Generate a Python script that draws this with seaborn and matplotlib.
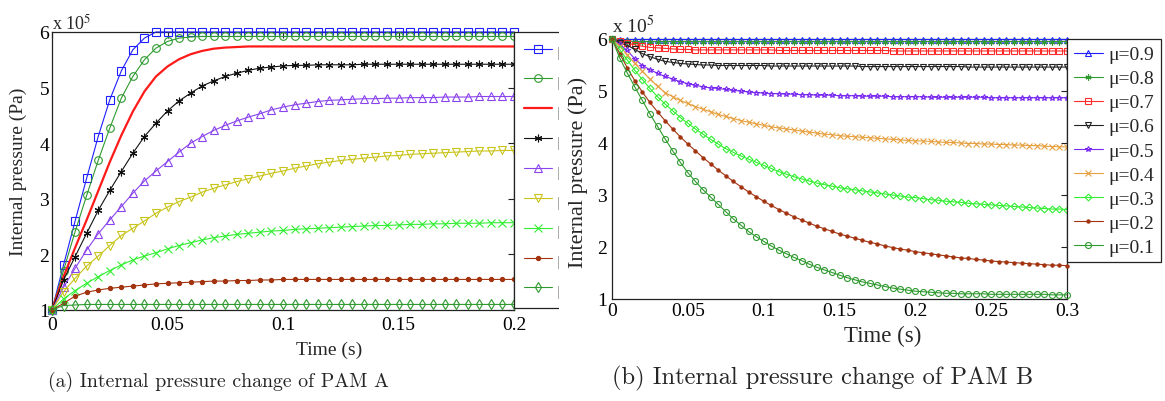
import numpy as np
import matplotlib
matplotlib.use("Agg")
import matplotlib.pyplot as plt
from matplotlib.patches import Rectangle
from matplotlib.ticker import FuncFormatter
import seaborn as sns

# ---- data (pressure in units of 1e5 Pa) ----
TIME_A = np.round(np.arange(41) * 0.005, 3)
TIME_B = np.round(np.arange(61) * 0.005, 3)

LABELS = ["μ=0.9", "μ=0.8", "μ=0.7", "μ=0.6", "μ=0.5",
          "μ=0.4", "μ=0.3", "μ=0.2", "μ=0.1"]
# the left picture is cropped: only the first glyph of its legend shows
LABELS_A = ["μ"] * 9

# PAM A
a_09 = [1.00, 1.81, 2.60, 3.37, 4.12, 4.78, 5.30, 5.68, 5.89, 6.00,
        6.00, 6.00, 6.00, 6.00, 6.00, 6.00, 6.00, 6.00, 6.00, 6.00,
        6.00, 6.00, 6.00, 6.00, 6.00, 6.00, 6.00, 6.00, 6.00, 6.00,
        6.00, 6.00, 6.00, 6.00, 6.00, 6.00, 6.00, 6.00, 6.00, 6.00,
        6.00]
a_08 = [1.00, 1.71, 2.41, 3.06, 3.69, 4.27, 4.81, 5.20, 5.50, 5.71,
        5.83, 5.89, 5.91, 5.92, 5.92, 5.92, 5.92, 5.92, 5.92, 5.92,
        5.92, 5.92, 5.92, 5.92, 5.92, 5.92, 5.92, 5.92, 5.92, 5.92,
        5.92, 5.92, 5.92, 5.92, 5.92, 5.92, 5.92, 5.92, 5.92, 5.92,
        5.92]
a_07 = [1.00, 1.60, 2.12, 2.62, 3.14, 3.66, 4.14, 4.57, 4.93, 5.20,
        5.38, 5.51, 5.60, 5.66, 5.70, 5.72, 5.73, 5.74, 5.74, 5.74,
        5.74, 5.74, 5.74, 5.74, 5.74, 5.74, 5.74, 5.74, 5.74, 5.74,
        5.74, 5.74, 5.74, 5.74, 5.74, 5.74, 5.74, 5.74, 5.74, 5.74,
        5.74]
a_06 = [1.00, 1.54, 1.96, 2.38, 2.79, 3.15, 3.49, 3.82, 4.12, 4.36,
        4.58, 4.76, 4.90, 5.03, 5.12, 5.20, 5.26, 5.31, 5.35, 5.37,
        5.39, 5.40, 5.40, 5.41, 5.41, 5.41, 5.41, 5.42, 5.42, 5.42,
        5.42, 5.42, 5.42, 5.42, 5.42, 5.42, 5.42, 5.42, 5.42, 5.42,
        5.42]
a_05 = [1.00, 1.41, 1.75, 2.08, 2.37, 2.62, 2.86, 3.10, 3.32, 3.50,
        3.67, 3.84, 4.00, 4.12, 4.23, 4.32, 4.40, 4.47, 4.53, 4.60,
        4.65, 4.69, 4.72, 4.75, 4.77, 4.78, 4.79, 4.80, 4.80, 4.81,
        4.81, 4.82, 4.82, 4.82, 4.83, 4.83, 4.83, 4.84, 4.84, 4.84,
        4.84]
a_04 = [1.00, 1.33, 1.57, 1.79, 1.97, 2.16, 2.34, 2.47, 2.60, 2.74,
        2.85, 2.95, 3.03, 3.12, 3.19, 3.25, 3.31, 3.36, 3.41, 3.46,
        3.50, 3.55, 3.59, 3.63, 3.66, 3.69, 3.71, 3.73, 3.75, 3.77,
        3.78, 3.80, 3.81, 3.82, 3.83, 3.84, 3.85, 3.86, 3.86, 3.87,
        3.87]
a_03 = [1.00, 1.20, 1.35, 1.48, 1.60, 1.71, 1.81, 1.90, 1.97, 2.03,
        2.10, 2.16, 2.21, 2.26, 2.30, 2.33, 2.36, 2.38, 2.40, 2.42,
        2.43, 2.45, 2.46, 2.47, 2.48, 2.49, 2.50, 2.51, 2.52, 2.52,
        2.53, 2.54, 2.54, 2.55, 2.55, 2.56, 2.56, 2.56, 2.57, 2.57,
        2.57]
a_02 = [1.00, 1.12, 1.25, 1.32, 1.36, 1.39, 1.41, 1.43, 1.45, 1.47,
        1.48, 1.49, 1.50, 1.51, 1.52, 1.52, 1.53, 1.53, 1.54, 1.54,
        1.55, 1.55, 1.55, 1.55, 1.55, 1.55, 1.55, 1.55, 1.55, 1.55,
        1.55, 1.55, 1.55, 1.55, 1.55, 1.55, 1.55, 1.55, 1.55, 1.55,
        1.55]
a_01 = [1.00, 1.08, 1.09, 1.10, 1.10, 1.10, 1.10, 1.10, 1.10, 1.10,
        1.10, 1.10, 1.10, 1.10, 1.10, 1.10, 1.10, 1.10, 1.10, 1.10,
        1.10, 1.10, 1.10, 1.10, 1.10, 1.10, 1.10, 1.10, 1.10, 1.10,
        1.10, 1.10, 1.10, 1.10, 1.10, 1.10, 1.10, 1.10, 1.10, 1.10,
        1.10]

# PAM B
b_09 = [6.00, 5.99, 5.99, 5.99, 5.99, 5.99, 5.99, 5.99, 5.99, 5.99,
        5.99, 5.99, 5.99, 5.99, 5.99, 5.99, 5.99, 5.99, 5.99, 5.99,
        5.99, 5.99, 5.99, 5.99, 5.99, 5.99, 5.99, 5.99, 5.99, 5.99,
        5.99, 5.99, 5.99, 5.99, 5.99, 5.99, 5.99, 5.99, 5.99, 5.99,
        5.99, 5.99, 5.99, 5.99, 5.99, 5.99, 5.99, 5.99, 5.99, 5.99,
        5.99, 5.99, 5.99, 5.99, 5.99, 5.99, 5.99, 5.99, 5.99, 5.99,
        5.99]
b_08 = [6.00, 5.97, 5.96, 5.95, 5.95, 5.95, 5.95, 5.95, 5.95, 5.95,
        5.95, 5.95, 5.95, 5.95, 5.95, 5.95, 5.95, 5.95, 5.95, 5.95,
        5.95, 5.95, 5.95, 5.95, 5.95, 5.95, 5.95, 5.95, 5.95, 5.95,
        5.95, 5.95, 5.95, 5.95, 5.95, 5.95, 5.95, 5.95, 5.95, 5.95,
        5.95, 5.95, 5.95, 5.95, 5.95, 5.95, 5.95, 5.95, 5.95, 5.95,
        5.95, 5.95, 5.95, 5.95, 5.95, 5.95, 5.95, 5.95, 5.95, 5.95,
        5.95]
b_07 = [6.00, 5.96, 5.92, 5.89, 5.86, 5.84, 5.83, 5.82, 5.81, 5.80,
        5.80, 5.79, 5.79, 5.79, 5.79, 5.79, 5.79, 5.79, 5.79, 5.79,
        5.79, 5.79, 5.78, 5.78, 5.78, 5.78, 5.78, 5.78, 5.78, 5.78,
        5.78, 5.78, 5.78, 5.78, 5.78, 5.78, 5.78, 5.77, 5.77, 5.77,
        5.77, 5.77, 5.77, 5.77, 5.77, 5.77, 5.77, 5.77, 5.77, 5.77,
        5.77, 5.77, 5.77, 5.77, 5.77, 5.77, 5.77, 5.77, 5.77, 5.77,
        5.77]
b_06 = [6.00, 5.93, 5.88, 5.80, 5.72, 5.66, 5.61, 5.57, 5.55, 5.53,
        5.52, 5.51, 5.50, 5.50, 5.49, 5.49, 5.49, 5.49, 5.49, 5.49,
        5.49, 5.48, 5.48, 5.48, 5.48, 5.48, 5.48, 5.48, 5.48, 5.48,
        5.48, 5.48, 5.48, 5.47, 5.47, 5.47, 5.47, 5.47, 5.47, 5.47,
        5.47, 5.47, 5.47, 5.47, 5.47, 5.47, 5.47, 5.46, 5.46, 5.46,
        5.46, 5.46, 5.46, 5.46, 5.46, 5.46, 5.46, 5.46, 5.46, 5.46,
        5.46]
b_05 = [6.00, 5.90, 5.78, 5.62, 5.49, 5.41, 5.34, 5.28, 5.23, 5.18,
        5.14, 5.11, 5.08, 5.06, 5.05, 5.03, 5.01, 5.00, 4.98, 4.97,
        4.96, 4.95, 4.95, 4.94, 4.94, 4.93, 4.93, 4.92, 4.92, 4.92,
        4.91, 4.91, 4.91, 4.90, 4.90, 4.90, 4.90, 4.89, 4.89, 4.89,
        4.89, 4.89, 4.88, 4.88, 4.88, 4.88, 4.88, 4.88, 4.88, 4.88,
        4.87, 4.87, 4.87, 4.87, 4.87, 4.87, 4.87, 4.87, 4.87, 4.87,
        4.87]
b_04 = [6.00, 5.86, 5.70, 5.53, 5.38, 5.23, 5.09, 4.97, 4.89, 4.82,
        4.76, 4.70, 4.65, 4.60, 4.55, 4.51, 4.47, 4.43, 4.40, 4.37,
        4.34, 4.31, 4.29, 4.27, 4.25, 4.23, 4.21, 4.19, 4.17, 4.16,
        4.14, 4.13, 4.12, 4.11, 4.10, 4.09, 4.08, 4.07, 4.06, 4.05,
        4.04, 4.04, 4.03, 4.02, 4.01, 4.01, 4.00, 3.99, 3.99, 3.98,
        3.98, 3.97, 3.97, 3.96, 3.96, 3.95, 3.95, 3.94, 3.93, 3.93,
        3.92]
b_03 = [6.00, 5.80, 5.60, 5.40, 5.22, 5.05, 4.89, 4.75, 4.62, 4.49,
        4.38, 4.27, 4.17, 4.07, 3.98, 3.89, 3.82, 3.75, 3.69, 3.63,
        3.57, 3.51, 3.45, 3.40, 3.35, 3.31, 3.27, 3.23, 3.20, 3.17,
        3.14, 3.12, 3.10, 3.08, 3.06, 3.04, 3.02, 3.00, 2.98, 2.96,
        2.95, 2.93, 2.91, 2.90, 2.88, 2.87, 2.86, 2.84, 2.83, 2.82,
        2.81, 2.80, 2.79, 2.78, 2.77, 2.76, 2.75, 2.74, 2.73, 2.73,
        2.72]
b_02 = [6.00, 5.72, 5.45, 5.20, 4.98, 4.78, 4.60, 4.43, 4.27, 4.12,
        3.98, 3.85, 3.72, 3.60, 3.48, 3.37, 3.26, 3.16, 3.06, 2.97,
        2.88, 2.80, 2.72, 2.65, 2.58, 2.52, 2.46, 2.40, 2.35, 2.30,
        2.25, 2.21, 2.17, 2.13, 2.09, 2.06, 2.02, 1.99, 1.96, 1.94,
        1.91, 1.89, 1.87, 1.85, 1.83, 1.81, 1.79, 1.78, 1.76, 1.75,
        1.73, 1.72, 1.71, 1.70, 1.69, 1.68, 1.67, 1.66, 1.65, 1.65,
        1.64]
b_01 = [6.00, 5.64, 5.35, 5.08, 4.82, 4.56, 4.32, 4.08, 3.85, 3.63,
        3.43, 3.26, 3.10, 2.96, 2.82, 2.68, 2.54, 2.42, 2.30, 2.20,
        2.11, 2.02, 1.94, 1.87, 1.80, 1.74, 1.67, 1.61, 1.56, 1.51,
        1.46, 1.41, 1.37, 1.33, 1.30, 1.27, 1.24, 1.21, 1.19, 1.17,
        1.15, 1.14, 1.13, 1.12, 1.11, 1.11, 1.10, 1.10, 1.10, 1.10,
        1.09, 1.09, 1.09, 1.09, 1.09, 1.09, 1.09, 1.09, 1.08, 1.08,
        1.08]

SERIES_A = [a_09, a_08, a_07, a_06, a_05, a_04, a_03, a_02, a_01]
SERIES_B = [b_09, b_08, b_07, b_06, b_05, b_04, b_03, b_02, b_01]

ASTER = (6, 2, 0)
# (color, marker, filled, linewidth)
STYLE_A = [("#1f1fff", "s", False, 0.8), ("#2f9a2f", "o", False, 0.8),
           ("#ff1a1a", None, False, 1.6), ("#111111", ASTER, True, 0.8),
           ("#8a44ee", "^", False, 0.8), ("#c8c41a", "v", False, 0.8),
           ("#33ee33", "x", False, 0.8), ("#a3330f", "o", True, 0.8),
           ("#2f9a2f", "d", False, 0.8)]
STYLE_B = [("#1f1fff", "^", False, 0.8), ("#2f9a2f", ASTER, True, 0.8),
           ("#ff2a2a", "s", False, 0.8), ("#222222", "v", False, 0.8),
           ("#7a2af0", "*", False, 0.8), ("#e6a040", "x", False, 0.8),
           ("#33ee33", "D", False, 0.8), ("#a3330f", "o", True, 0.8),
           ("#2f9a2f", "o", False, 0.8)]

W, H = 1165, 402

sns.set_theme(style="white")
plt.rcParams["font.family"] = ["Liberation Serif", "DejaVu Serif"]
plt.rcParams["mathtext.fontset"] = "stix"


def fx(x):
    return x / W


def fy(y):
    return 1 - y / H


def draw_panel(ax, t, series, labels, styles, ms, xmax, xticks):
    for vals, lab, (c, m, filled, lw) in zip(series, labels, styles):
        size = ms
        if m == "o" and filled:
            size = ms * 0.55
        elif m == "D":
            size = ms * 0.8
        sns.lineplot(x=t, y=vals, ax=ax, color=c, linewidth=lw, label=lab,
                     marker=m, markersize=size, markeredgewidth=0.8,
                     markeredgecolor=c,
                     markerfacecolor=(c if filled else "none"),
                     clip_on=False, zorder=3)
    ax.set_xlim(0, xmax)
    ax.set_ylim(1, 6)
    ax.set_xticks(xticks)
    ax.set_yticks([1, 2, 3, 4, 5, 6])
    ax.xaxis.set_major_formatter(FuncFormatter(lambda v, p: "%g" % v))
    ax.set_xlabel("")
    ax.set_ylabel("")
    for s in ax.spines.values():
        s.set_color("#222222")
        s.set_linewidth(0.9)
    ax.tick_params(direction="in", length=4, width=0.8, top=True,
                   right=True, colors="#222222", labelcolor="black",
                   labelsize=14)


fig = plt.figure(figsize=(W / 100, H / 100), dpi=100)

# ---- panel (a) ----
ax_a = fig.add_axes([fx(52), fy(311), 462 / W, 278 / H], zorder=1)
draw_panel(ax_a, TIME_A, SERIES_A, LABELS_A, STYLE_A, 5.5, 0.2,
           [0, 0.05, 0.1, 0.15, 0.2])
ax_a.tick_params(axis="x", pad=4)
ax_a.tick_params(axis="y", pad=2)
leg_a = ax_a.legend(loc="upper left", bbox_to_anchor=(1.0, 1.0),
                    borderaxespad=0, fontsize=14, numpoints=1,
                    handlelength=1.45, handletextpad=0.22, borderpad=0.5,
                    labelspacing=0.63, fancybox=False, framealpha=1,
                    edgecolor="#222222")
leg_a.get_frame().set_linewidth(0.9)

fig.text(fx(329), fy(350), "Time (s)", ha="center", va="center", fontsize=14)
fig.text(fx(18), fy(172), "Internal pressure (Pa)", ha="center",
         va="center", rotation=90, fontsize=14)
fig.text(fx(52), fy(30), r"x 10$^{5}$", ha="left", va="baseline",
         fontsize=13)
fig.text(fx(48), fy(382), "(a) Internal pressure change of PAM A",
         ha="left", va="center", fontsize=14.3, family="cmr10")

# crop of the left picture: hide the rest of its legend
fig.add_artist(Rectangle((fx(558.5), 0), fx(600) - fx(558.5), 1,
                         transform=fig.transFigure, facecolor="white",
                         edgecolor="none", zorder=2))

# ---- panel (b) ----
ax_b = fig.add_axes([fx(612), fy(300), 455 / W, 260 / H], zorder=3)
draw_panel(ax_b, TIME_B, SERIES_B, LABELS, STYLE_B, 4.3, 0.3,
           [0, 0.05, 0.1, 0.15, 0.2, 0.25, 0.3])
ax_b.tick_params(axis="x", pad=2)
ax_b.tick_params(axis="y", pad=3.5)
leg_b = ax_b.legend(loc="upper left", bbox_to_anchor=(1.0, 1.0),
                    borderaxespad=0, fontsize=14, numpoints=1,
                    handlelength=1.5, handletextpad=0.28, borderpad=0.35,
                    labelspacing=0.33, fancybox=False, framealpha=1,
                    edgecolor="#222222")
leg_b.get_frame().set_linewidth(0.9)

fig.text(fx(883), fy(336), "Time (s)", ha="center", va="center",
         fontsize=16.5, zorder=4)
fig.text(fx(578), fy(172), "Internal pressure (Pa)", ha="center",
         va="center", rotation=90, fontsize=16, zorder=4)
fig.text(fx(612), fy(33), r"x 10$^{5}$", ha="left", va="baseline",
         fontsize=14, zorder=4)
fig.text(fx(612), fy(378), "(b) Internal pressure change of PAM B",
         ha="left", va="center", fontsize=17.6, family="cmr10", zorder=4)

fig.savefig("out.png", dpi=100)
